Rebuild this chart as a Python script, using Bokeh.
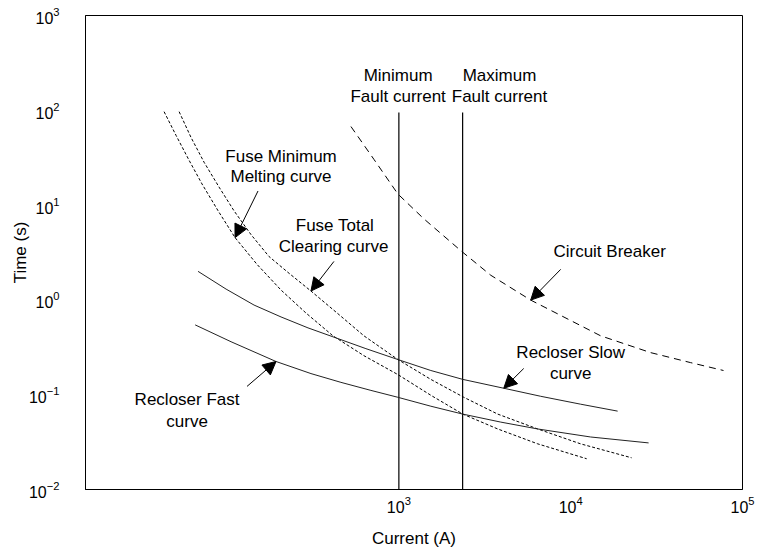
from bokeh.plotting import figure
from bokeh.models import Label, Arrow, NormalHead, FixedTicker, Range1d
from bokeh.embed import file_html
from bokeh.resources import INLINE

# Time-current characteristics: current in A, operating time in s
fuse_mm_i = [43.0, 50.5, 60.1, 71.5, 88.7, 111.3, 149.4, 206.1, 288.0, 413.3,
             626.0, 987.0, 1535, 2356, 3763, 6429, 12390]
fuse_mm_t = [96.7, 54.3, 29.7, 16.7, 8.70, 4.54, 2.37, 1.27, 0.727, 0.418,
             0.258, 0.163, 0.0986, 0.0624, 0.0435, 0.0303, 0.0211]

fuse_tc_i = [52.6, 61.7, 73.5, 89.8, 109.8, 137.9, 175.4, 229.4, 307.9, 430.2,
             626.0, 987.0, 1535, 2388, 3763, 6429, 11430, 22620]
fuse_tc_t = [96.7, 51.7, 28.3, 15.5, 8.70, 4.88, 2.87, 1.91, 1.24, 0.745,
             0.418, 0.235, 0.145, 0.0939, 0.0624, 0.0435, 0.0303, 0.0216]

rec_slow_i = [67.8, 98.7, 143.6, 206.1, 295.8, 413.3, 642.9, 986.7, 1535, 2356,
              4079, 6692, 11430, 18760]
rec_slow_t = [2.00, 1.30, 0.882, 0.661, 0.507, 0.408, 0.306, 0.235, 0.180, 0.145,
              0.117, 0.0962, 0.0794, 0.0671]

rec_fast_i = [65.2, 105.5, 192.7, 307.9, 459.9, 687.5, 986.7, 1535, 2356, 3918,
              6429, 13070, 28410]
rec_fast_t = [0.545, 0.362, 0.224, 0.167, 0.135, 0.111, 0.0939, 0.0756, 0.0624,
              0.0514, 0.0435, 0.0358, 0.0310]

breaker_i = [526.1, 715.6, 986.7, 1397, 2324, 3426, 5853, 14940, 29180, 49860, 77530]
breaker_t = [67.4, 30.4, 13.1, 7.17, 3.24, 1.82, 0.995, 0.418, 0.278, 0.218, 0.180]

fault_min_i = 1000
fault_max_i = 2350
fault_line_top = 95

x_ticks = [1e3, 1e4, 1e5]
y_ticks = [1e-2, 1e-1, 1e0, 1e1, 1e2, 1e3]

FONT = "Liberation Sans"
INK = "black"

p = figure(width=757, height=550, x_axis_type="log", y_axis_type="log",
           x_range=Range1d(15, 1e5), y_range=Range1d(1e-2, 1e3),
           output_backend="svg", toolbar_location=None,
           min_border_left=85, min_border_right=15,
           min_border_top=15, min_border_bottom=57)

p.background_fill_color = "white"
p.border_fill_color = "white"
p.outline_line_color = INK
p.outline_line_width = 1
p.grid.visible = False

p.xaxis.ticker = FixedTicker(ticks=x_ticks, minor_ticks=[])
p.yaxis.ticker = FixedTicker(ticks=y_ticks, minor_ticks=[])
for ax in (p.xaxis, p.yaxis):
    ax.major_tick_line_color = None
    ax.minor_tick_line_color = None
    ax.axis_line_color = INK
    ax.major_label_text_font = FONT
    ax.major_label_text_font_size = "16px"
    ax.major_label_text_color = INK
    ax.axis_label_text_font = FONT
    ax.axis_label_text_font_size = "17px"
    ax.axis_label_text_font_style = "normal"
    ax.axis_label_text_color = INK

p.xaxis.axis_label = "Current (A)"
p.yaxis.axis_label = "Time (s)"
p.xaxis.major_label_standoff = 0
p.xaxis.axis_label_standoff = 13
p.yaxis.major_label_standoff = 20
p.yaxis.axis_label_standoff = -4

# fault current limits
p.segment(x0=[fault_min_i, fault_max_i], x1=[fault_min_i, fault_max_i],
          y0=[1e-2, 1e-2], y1=[fault_line_top, fault_line_top],
          line_color=INK, line_width=1.2)

# protection curves
p.line(fuse_mm_i, fuse_mm_t, line_color=INK, line_width=1, line_dash="3 2")
p.line(fuse_tc_i, fuse_tc_t, line_color=INK, line_width=1, line_dash="3 2")
p.line(breaker_i, breaker_t, line_color=INK, line_width=1, line_dash="7 5")
p.line(rec_slow_i, rec_slow_t, line_color="#222222", line_width=1)
p.line(rec_fast_i, rec_fast_t, line_color="#222222", line_width=1)

# text annotations
texts = [
    ("Minimum", 990, 230.1),
    ("Fault current", 990, 138.8),
    ("Maximum", 3850, 230.1),
    ("Fault current", 3850, 138.8),
    ("Fuse Minimum", 206.1, 32.7),
    ("Melting curve", 206.1, 20.2),
    ("Fuse Total", 424.6, 6.06),
    ("Clearing  curve", 430.2, 3.65),
    ("Circuit Breaker", 16850, 3.24),
    ("Recloser Slow", 10000, 0.278),
    ("curve", 10000, 0.167),
    ("Recloser Fast", 58.5, 0.0895),
    ("curve", 58.5, 0.0527),
]
for txt, x, y in texts:
    p.add_layout(Label(x=x, y=y, text=txt, text_font=FONT, text_font_size="17px",
                       text_color=INK, text_align="center", text_baseline="middle"))

# pointer arrows: tail position, tip on the curve point
arrows = [
    (151.4, 14.08, fuse_mm_i[5], fuse_mm_t[5]),
    (418.9, 2.546, fuse_tc_i[8], fuse_tc_t[8]),
    (8747, 2.10, breaker_i[6], breaker_t[6]),
    (5329, 0.189, rec_slow_i[10], rec_slow_t[10]),
    (130.7, 0.1224, rec_fast_i[2], rec_fast_t[2]),
]
for xs, ys, xe, ye in arrows:
    p.add_layout(Arrow(end=NormalHead(size=13, fill_color=INK, line_color=INK),
                       x_start=xs, y_start=ys, x_end=xe, y_end=ye,
                       line_color=INK, line_width=1))

open("out.html", "w").write(file_html(p, INLINE))
